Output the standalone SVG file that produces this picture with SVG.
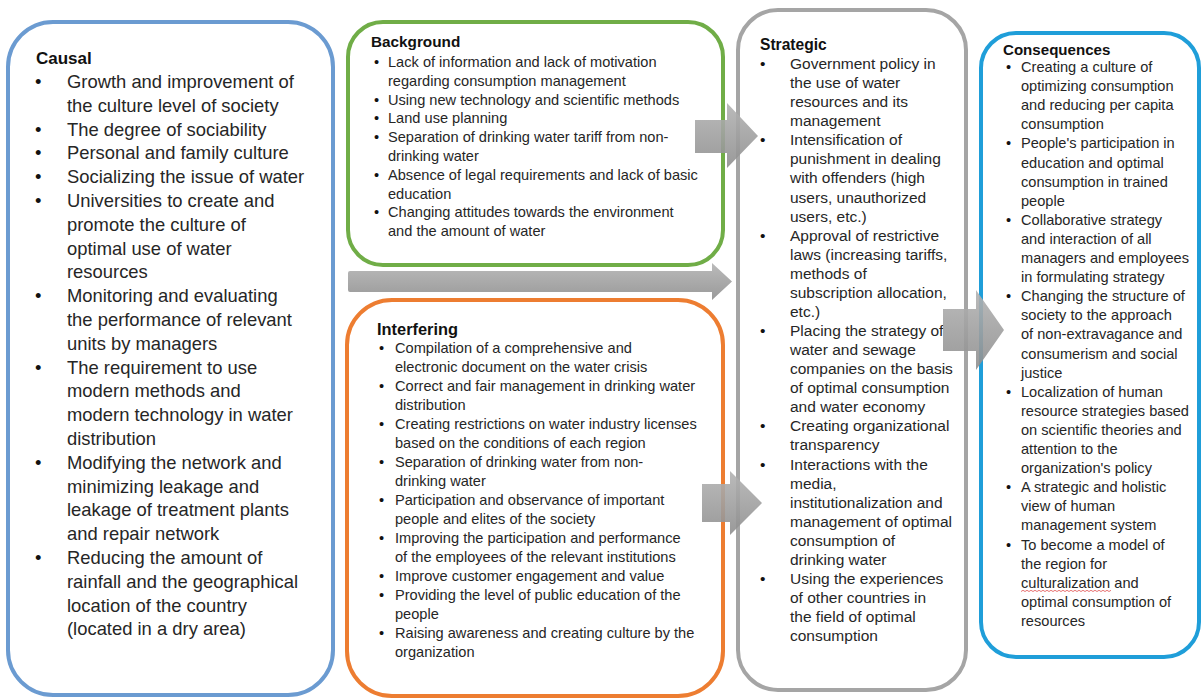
<svg xmlns="http://www.w3.org/2000/svg" width="1204" height="700" viewBox="0 0 1204 700">
<defs>
<linearGradient id="ag" x1="0" y1="0" x2="0" y2="1">
<stop offset="0" stop-color="#b3b3b3"/>
<stop offset="1" stop-color="#8e8e8e"/>
</linearGradient>
<style>
.box{fill:#ffffff;stroke-width:4}
.t{font-family:"Liberation Sans",Arial,sans-serif;fill:#262626}
.h{font-weight:bold;fill:#111111}
.b{fill:#111111}
.arrow{fill:url(#ag);opacity:0.9}
</style>
</defs>
<rect width="1204" height="700" fill="#ffffff"/>

<g id="causal">
<rect class="box" x="8" y="22" width="325" height="673" rx="45" ry="45" stroke="#6b9bd1"/>
<text class="t h" x="36" y="64" font-size="17">Causal</text>
<g class="t b" font-size="18.4">
<text x="35" y="88">•</text><text x="35" y="135.6">•</text><text x="35" y="159.4">•</text><text x="35" y="183.2">•</text><text x="35" y="207">•</text><text x="35" y="302.2">•</text><text x="35" y="373.6">•</text><text x="35" y="468.8">•</text><text x="35" y="564">•</text>
</g>
<text class="t" font-size="18.4">
<tspan x="67" y="88">Growth and improvement of</tspan>
<tspan x="67" y="111.8">the culture level of society</tspan>
<tspan x="67" y="135.6">The degree of sociability</tspan>
<tspan x="67" y="159.4">Personal and family culture</tspan>
<tspan x="67" y="183.2">Socializing the issue of water</tspan>
<tspan x="67" y="207">Universities to create and</tspan>
<tspan x="67" y="230.8">promote the culture of</tspan>
<tspan x="67" y="254.6">optimal use of water</tspan>
<tspan x="67" y="278.4">resources</tspan>
<tspan x="67" y="302.2">Monitoring and evaluating</tspan>
<tspan x="67" y="326">the performance of relevant</tspan>
<tspan x="67" y="349.8">units by managers</tspan>
<tspan x="67" y="373.6">The requirement to use</tspan>
<tspan x="67" y="397.4">modern methods and</tspan>
<tspan x="67" y="421.2">modern technology in water</tspan>
<tspan x="67" y="445">distribution</tspan>
<tspan x="67" y="468.8">Modifying the network and</tspan>
<tspan x="67" y="492.6">minimizing leakage and</tspan>
<tspan x="67" y="516.4">leakage of treatment plants</tspan>
<tspan x="67" y="540.2">and repair network</tspan>
<tspan x="67" y="564">Reducing the amount of</tspan>
<tspan x="67" y="587.8">rainfall and the geographical</tspan>
<tspan x="67" y="611.6">location of the country</tspan>
<tspan x="67" y="635.4">(located in a dry area)</tspan>
</text>
</g>

<g id="background">
<rect class="box" x="348" y="22" width="375" height="243" rx="35" ry="35" stroke="#70ad47"/>
<text class="t h" x="371" y="47" font-size="15.3">Background</text>
<g class="t b" font-size="14.6">
<text x="374" y="67">•</text><text x="374" y="104.6">•</text><text x="374" y="123.4">•</text><text x="374" y="142.2">•</text><text x="374" y="179.8">•</text><text x="374" y="217.4">•</text>
</g>
<text class="t" font-size="14.6">
<tspan x="388" y="67">Lack of information and lack of motivation</tspan>
<tspan x="388" y="85.8">regarding consumption management</tspan>
<tspan x="388" y="104.6">Using new technology and scientific methods</tspan>
<tspan x="388" y="123.4">Land use planning</tspan>
<tspan x="388" y="142.2">Separation of drinking water tariff from non-</tspan>
<tspan x="388" y="161">drinking water</tspan>
<tspan x="388" y="179.8">Absence of legal requirements and lack of basic</tspan>
<tspan x="388" y="198.6">education</tspan>
<tspan x="388" y="217.4">Changing attitudes towards the environment</tspan>
<tspan x="388" y="236.2">and the amount of water</tspan>
</text>
</g>

<g id="interfering">
<rect class="box" x="347" y="300" width="376" height="396" rx="45" ry="45" stroke="#ed7d31"/>
<text class="t h" x="377" y="335" font-size="16.4">Interfering</text>
<g class="t b" font-size="14.6">
<text x="379" y="353">•</text><text x="379" y="391">•</text><text x="379" y="429">•</text><text x="379" y="467">•</text><text x="379" y="505">•</text><text x="379" y="543">•</text><text x="379" y="581">•</text><text x="379" y="600">•</text><text x="379" y="638">•</text>
</g>
<text class="t" font-size="14.6">
<tspan x="395" y="353">Compilation of a comprehensive and</tspan>
<tspan x="395" y="372">electronic document on the water crisis</tspan>
<tspan x="395" y="391">Correct and fair management in drinking water</tspan>
<tspan x="395" y="410">distribution</tspan>
<tspan x="395" y="429">Creating restrictions on water industry licenses</tspan>
<tspan x="395" y="448">based on the conditions of each region</tspan>
<tspan x="395" y="467">Separation of drinking water from non-</tspan>
<tspan x="395" y="486">drinking water</tspan>
<tspan x="395" y="505">Participation and observance of important</tspan>
<tspan x="395" y="524">people and elites of the society</tspan>
<tspan x="395" y="543">Improving the participation and performance</tspan>
<tspan x="395" y="562">of the employees of the relevant institutions</tspan>
<tspan x="395" y="581">Improve customer engagement and value</tspan>
<tspan x="395" y="600">Providing the level of public education of the</tspan>
<tspan x="395" y="619">people</tspan>
<tspan x="395" y="638">Raising awareness and creating culture by the</tspan>
<tspan x="395" y="657">organization</tspan>
</text>
</g>

<g id="strategic">
<rect class="box" x="738" y="10" width="228" height="680" rx="40" ry="40" stroke="#a5a5a5"/>
<text class="t h" x="760" y="50" font-size="15.6">Strategic</text>
<g class="t b" font-size="15.5">
<text x="760" y="69">•</text><text x="760" y="145.3">•</text><text x="760" y="240.6">•</text><text x="760" y="336">•</text><text x="760" y="431.3">•</text><text x="760" y="469.5">•</text><text x="760" y="583.9">•</text>
</g>
<text class="t" font-size="15.5">
<tspan x="790" y="69">Government policy in</tspan>
<tspan x="790" y="88.1">the use of water</tspan>
<tspan x="790" y="107.1">resources and its</tspan>
<tspan x="790" y="126.2">management</tspan>
<tspan x="790" y="145.3">Intensification of</tspan>
<tspan x="790" y="164.4">punishment in dealing</tspan>
<tspan x="790" y="183.4">with offenders (high</tspan>
<tspan x="790" y="202.5">users, unauthorized</tspan>
<tspan x="790" y="221.6">users, etc.)</tspan>
<tspan x="790" y="240.6">Approval of restrictive</tspan>
<tspan x="790" y="259.7">laws (increasing tariffs,</tspan>
<tspan x="790" y="278.8">methods of</tspan>
<tspan x="790" y="297.8">subscription allocation,</tspan>
<tspan x="790" y="316.9">etc.)</tspan>
<tspan x="790" y="336">Placing the strategy of</tspan>
<tspan x="790" y="355.1">water and sewage</tspan>
<tspan x="790" y="374.1">companies on the basis</tspan>
<tspan x="790" y="393.2">of optimal consumption</tspan>
<tspan x="790" y="412.3">and water economy</tspan>
<tspan x="790" y="431.3">Creating organizational</tspan>
<tspan x="790" y="450.4">transparency</tspan>
<tspan x="790" y="469.5">Interactions with the</tspan>
<tspan x="790" y="488.5">media,</tspan>
<tspan x="790" y="507.6">institutionalization and</tspan>
<tspan x="790" y="526.7">management of optimal</tspan>
<tspan x="790" y="545.8">consumption of</tspan>
<tspan x="790" y="564.8">drinking water</tspan>
<tspan x="790" y="583.9">Using the experiences</tspan>
<tspan x="790" y="603">of other countries in</tspan>
<tspan x="790" y="622">the field of optimal</tspan>
<tspan x="790" y="641.1">consumption</tspan>
</text>
</g>

<g id="consequences">
<rect class="box" x="981" y="33" width="218" height="624" rx="35" ry="35" stroke="#1f9ed9"/>
<text class="t h" x="1003" y="55" font-size="15.1">Consequences</text>
<g class="t b" font-size="14.6">
<text x="1006" y="72">•</text><text x="1006" y="148.4">•</text><text x="1006" y="224.8">•</text><text x="1006" y="301.2">•</text><text x="1006" y="396.7">•</text><text x="1006" y="492.2">•</text><text x="1006" y="549.5">•</text>
</g>
<text class="t" font-size="14.6">
<tspan x="1021" y="72">Creating a culture of</tspan>
<tspan x="1021" y="91.1">optimizing consumption</tspan>
<tspan x="1021" y="110.2">and reducing per capita</tspan>
<tspan x="1021" y="129.3">consumption</tspan>
<tspan x="1021" y="148.4">People's participation in</tspan>
<tspan x="1021" y="167.5">education and optimal</tspan>
<tspan x="1021" y="186.6">consumption in trained</tspan>
<tspan x="1021" y="205.7">people</tspan>
<tspan x="1021" y="224.8">Collaborative strategy</tspan>
<tspan x="1021" y="243.9">and interaction of all</tspan>
<tspan x="1021" y="263">managers and employees</tspan>
<tspan x="1021" y="282.1">in formulating strategy</tspan>
<tspan x="1021" y="301.2">Changing the structure of</tspan>
<tspan x="1021" y="320.3">society to the approach</tspan>
<tspan x="1021" y="339.4">of non-extravagance and</tspan>
<tspan x="1021" y="358.5">consumerism and social</tspan>
<tspan x="1021" y="377.6">justice</tspan>
<tspan x="1021" y="396.7">Localization of human</tspan>
<tspan x="1021" y="415.8">resource strategies based</tspan>
<tspan x="1021" y="434.9">on scientific theories and</tspan>
<tspan x="1021" y="454">attention to the</tspan>
<tspan x="1021" y="473.1">organization's policy</tspan>
<tspan x="1021" y="492.2">A strategic and holistic</tspan>
<tspan x="1021" y="511.3">view of human</tspan>
<tspan x="1021" y="530.4">management system</tspan>
<tspan x="1021" y="549.5">To become a model of</tspan>
<tspan x="1021" y="568.6">the region for</tspan>
<tspan x="1021" y="587.7">culturalization and</tspan>
<tspan x="1021" y="606.8">optimal consumption of</tspan>
<tspan x="1021" y="625.9">resources</tspan>
</text>
<path d="M1021,591.5 l2,-1.2 l2,1.2 l2,-1.2 l2,1.2 l2,-1.2 l2,1.2 l2,-1.2 l2,1.2 l2,-1.2 l2,1.2 l2,-1.2 l2,1.2 l2,-1.2 l2,1.2 l2,-1.2 l2,1.2 l2,-1.2 l2,1.2 l2,-1.2 l2,1.2 l2,-1.2 l2,1.2 l2,-1.2 l2,1.2 l2,-1.2 l2,1.2 l2,-1.2 l2,1.2 l2,-1.2 l2,1.2 l2,-1.2 l2,1.2 l2,-1.2 l2,1.2 l2,-1.2 l2,1.2 l2,-1.2 l2,1.2 l2,-1.2 l2,1.2 l2,-1.2 l2,1.2 l2,-1.2 l2,1.2 l2,-1.2" fill="none" stroke="#e05050" stroke-width="0.8"/>
</g>

<g id="connectors">
<path class="arrow" d="M695,120 H727 V103 L758,136 L727,168 V153 H695 Z"/>
<path class="arrow" d="M350,271 H712 V263 L732,281.5 L712,300 V292 H350 Q348,292 348,290 V273 Q348,271 350,271 Z"/>
<path class="arrow" d="M702,484 H730 V471 L762,503 L730,535 V522 H702 Z"/>
<path class="arrow" d="M943,309 H976 V290 L1004,330 L976,370 V351 H943 Z"/>
</g>
</svg>
